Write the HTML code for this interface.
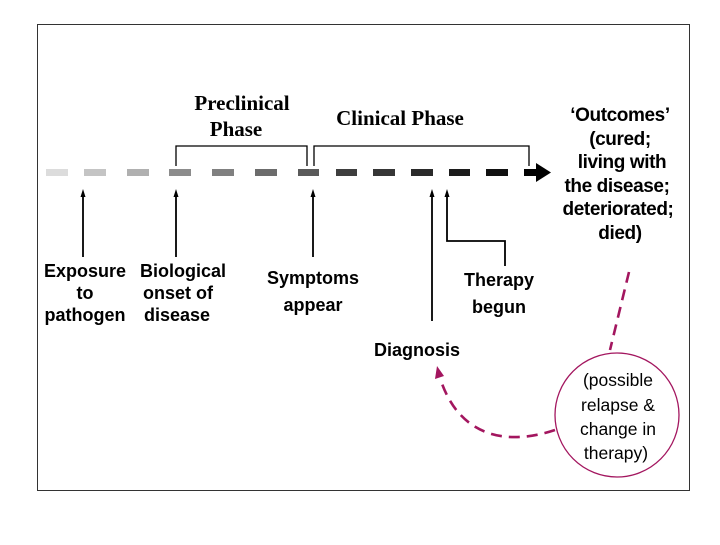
<!DOCTYPE html>
<html><head><meta charset="utf-8"><style>
body{margin:0;background:#fff}
svg text{font-family:"Liberation Sans",Arial,sans-serif;font-weight:bold;fill:#000}
.s{font-family:"Liberation Serif",serif !important}
</style></head><body>
<svg width="720" height="540" viewBox="0 0 720 540" xmlns="http://www.w3.org/2000/svg">
<rect x="37.5" y="24.5" width="652" height="466" fill="#fff" stroke="#333" stroke-width="1"/>
<g>
<rect x="46" y="169" width="22" height="7" fill="#dcdcdc"/>
<rect x="84" y="169" width="22" height="7" fill="#c4c4c4"/>
<rect x="127" y="169" width="22" height="7" fill="#b0b0b0"/>
<rect x="169" y="169" width="22" height="7" fill="#8c8c8c"/>
<rect x="212" y="169" width="22" height="7" fill="#808080"/>
<rect x="255" y="169" width="22" height="7" fill="#6c6c6c"/>
<rect x="298" y="169" width="21" height="7" fill="#5a5a5a"/>
<rect x="336" y="169" width="21" height="7" fill="#3e3e3e"/>
<rect x="373" y="169" width="22" height="7" fill="#363636"/>
<rect x="411" y="169" width="22" height="7" fill="#2a2a2a"/>
<rect x="449" y="169" width="21" height="7" fill="#1c1c1c"/>
<rect x="486" y="169" width="22" height="7" fill="#111"/>
<rect x="524" y="169" width="16" height="7" fill="#000"/>
<polygon points="536,163 551,172.5 536,182" fill="#000"/>
</g>
<g fill="none" stroke="#000" stroke-width="1.3">
<polyline points="176,166 176,146 307,146 307,166"/>
<polyline points="314,166 314,146 529,146 529,166"/>
</g>
<g stroke="#000" stroke-width="1.8" fill="none">
<line x1="83" y1="196" x2="83" y2="257"/>
<line x1="176" y1="196" x2="176" y2="257"/>
<line x1="313" y1="196" x2="313" y2="257"/>
<line x1="432" y1="196" x2="432" y2="321"/>
<polyline points="447,196 447,241 505,241 505,266"/>
</g>
<g fill="#000">
<polygon points="83,189 80.5,197 85.5,197"/>
<polygon points="176,189 173.5,197 178.5,197"/>
<polygon points="313,189 310.5,197 315.5,197"/>
<polygon points="432,189 429.5,197 434.5,197"/>
<polygon points="447,189 444.5,197 449.5,197"/>
</g>
<text class="s" x="242" y="110" font-size="21" text-anchor="middle">Preclinical</text>
<text class="s" x="236" y="136" font-size="21" text-anchor="middle">Phase</text>
<text class="s" x="400" y="125" font-size="21" text-anchor="middle">Clinical Phase</text>
<g font-size="18" text-anchor="middle">
<text x="85" y="277">Exposure</text>
<text x="85" y="299">to</text>
<text x="85" y="321">pathogen</text>
<text x="183" y="277">Biological</text>
<text x="178" y="299">onset of</text>
<text x="177" y="321">disease</text>
<text x="313" y="284">Symptoms</text>
<text x="313" y="311">appear</text>
<text x="499" y="286">Therapy</text>
<text x="499" y="313">begun</text>
<text x="417" y="356">Diagnosis</text>
</g>
<g font-size="19" text-anchor="middle" letter-spacing="-0.4">
<text x="620" y="121">‘Outcomes’</text>
<text x="620" y="145">(cured;</text>
<text x="622" y="168">living with</text>
<text x="617" y="192">the disease;</text>
<text x="618" y="215">deteriorated;</text>
<text x="620" y="239">died)</text>
</g>
<g fill="none" stroke="#a3165f" stroke-width="2.6" stroke-dasharray="11,7">
<path d="M629,272 L610,350"/>
<path d="M555,430 C510,445 460,440 440,378"/>
</g>
<polygon points="437,366 435,379 444,376" fill="#a3165f"/>
<circle cx="617" cy="415" r="62" fill="#fff" stroke="#a3165f" stroke-width="1.3"/>
<g font-size="17.5" text-anchor="middle" style="font-weight:normal" font-weight="normal">
<text x="618" y="386" font-weight="normal" style="font-weight:normal">(possible</text>
<text x="618" y="411" style="font-weight:normal">relapse &amp;</text>
<text x="618" y="435" style="font-weight:normal">change in</text>
<text x="616" y="459" style="font-weight:normal">therapy)</text>
</g>
</svg>
</body></html>
